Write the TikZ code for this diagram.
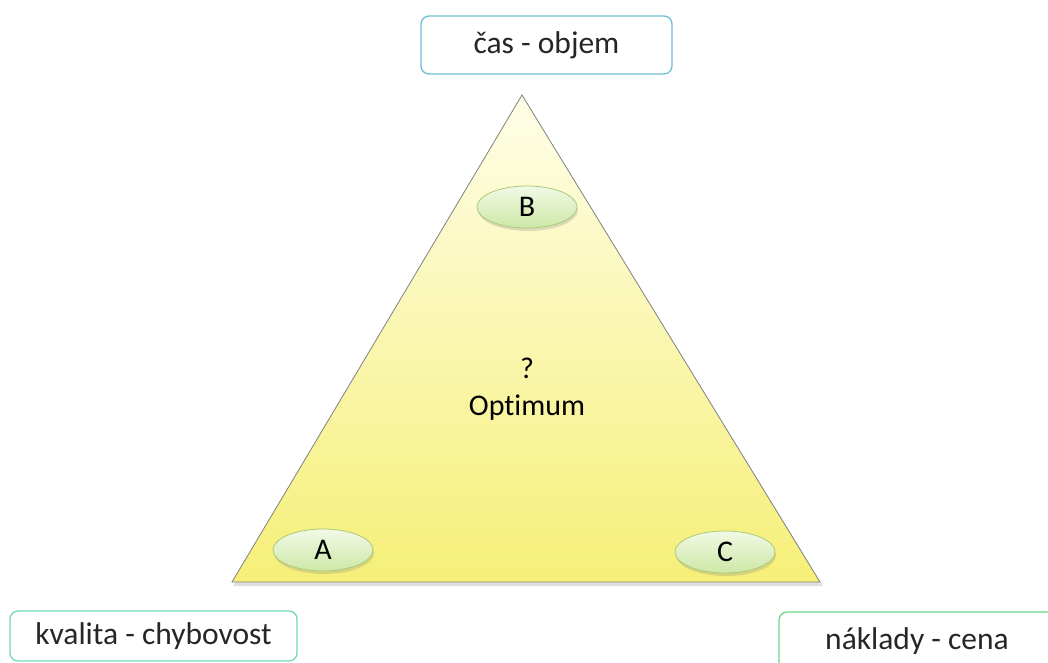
\documentclass[tikz,border=0pt]{standalone}
\usepackage{fontspec}
\setmainfont{Carlito}[Ligatures=NoCommon]
\usetikzlibrary{shapes.geometric,shadows,calc}
\definecolor{edgeblue}{HTML}{6DBFD8}
\definecolor{edgeteal}{HTML}{70D8BC}
\definecolor{edgegreen}{HTML}{6CD68E}
\definecolor{tagedge}{HTML}{A9CB78}
\definecolor{tagtop}{HTML}{F2F9E6}
\definecolor{tagbottom}{HTML}{CDE8A6}
\definecolor{triatop}{HTML}{FEFEE8}
\definecolor{triabottom}{HTML}{F6EF78}
\tikzset{
    label box/.style={
        draw=#1, fill=white, rounded corners=8pt, line width=1.3pt,
        minimum height=58pt, text=black!85,
        font=\fontsize{31.5}{36}\selectfont
    },
    corner tag/.style={
        ellipse, draw=tagedge, line width=0.8pt,
        top color=tagtop, bottom color=tagbottom,
        minimum width=100pt, minimum height=42pt, inner sep=0pt,
        drop shadow={opacity=0.25, shadow xshift=1pt, shadow yshift=-3pt},
        font=\fontsize{30}{34}\selectfont
    }
}

\begin{document}
\begin{tikzpicture}[x=1pt, y=-1pt]

\useasboundingbox (0,0) rectangle (1048,662);
\clip (0,0) rectangle (1048,662);

% Triangolo
\coordinate (apex) at (522,95);
\coordinate (left) at (232,582);
\coordinate (right) at (820,582);
\fill[black, opacity=0.12] ($(apex)+(2,4)$) -- ($(right)+(3,4)$) -- ($(left)+(1,4)$) -- cycle;
\draw[gray, line width=0.8pt, top color=triatop, bottom color=triabottom]
    (apex) -- (right) -- (left) -- cycle;

% Testo centrale
\node[align=center, font=\fontsize{30}{37}\selectfont] (optimum) at (527,389) {?\\Optimum};

% Ellissi
\node[corner tag] (tagB) at (527,207) {B};
\node[corner tag] (tagA) at (323,550) {A};
\node[corner tag] (tagC) at (725,552) {C};

% Riquadri
\node[label box=edgeblue, minimum width=251pt] (time) at (546.5,45) {čas - objem};
\node[label box=edgeteal, minimum width=287pt, minimum height=50pt] (quality) at (153.5,636) {kvalita - chybovost};
\node[label box=edgegreen, minimum width=276pt] (cost) at (917,641) {náklady - cena};

\end{tikzpicture}
\end{document}
